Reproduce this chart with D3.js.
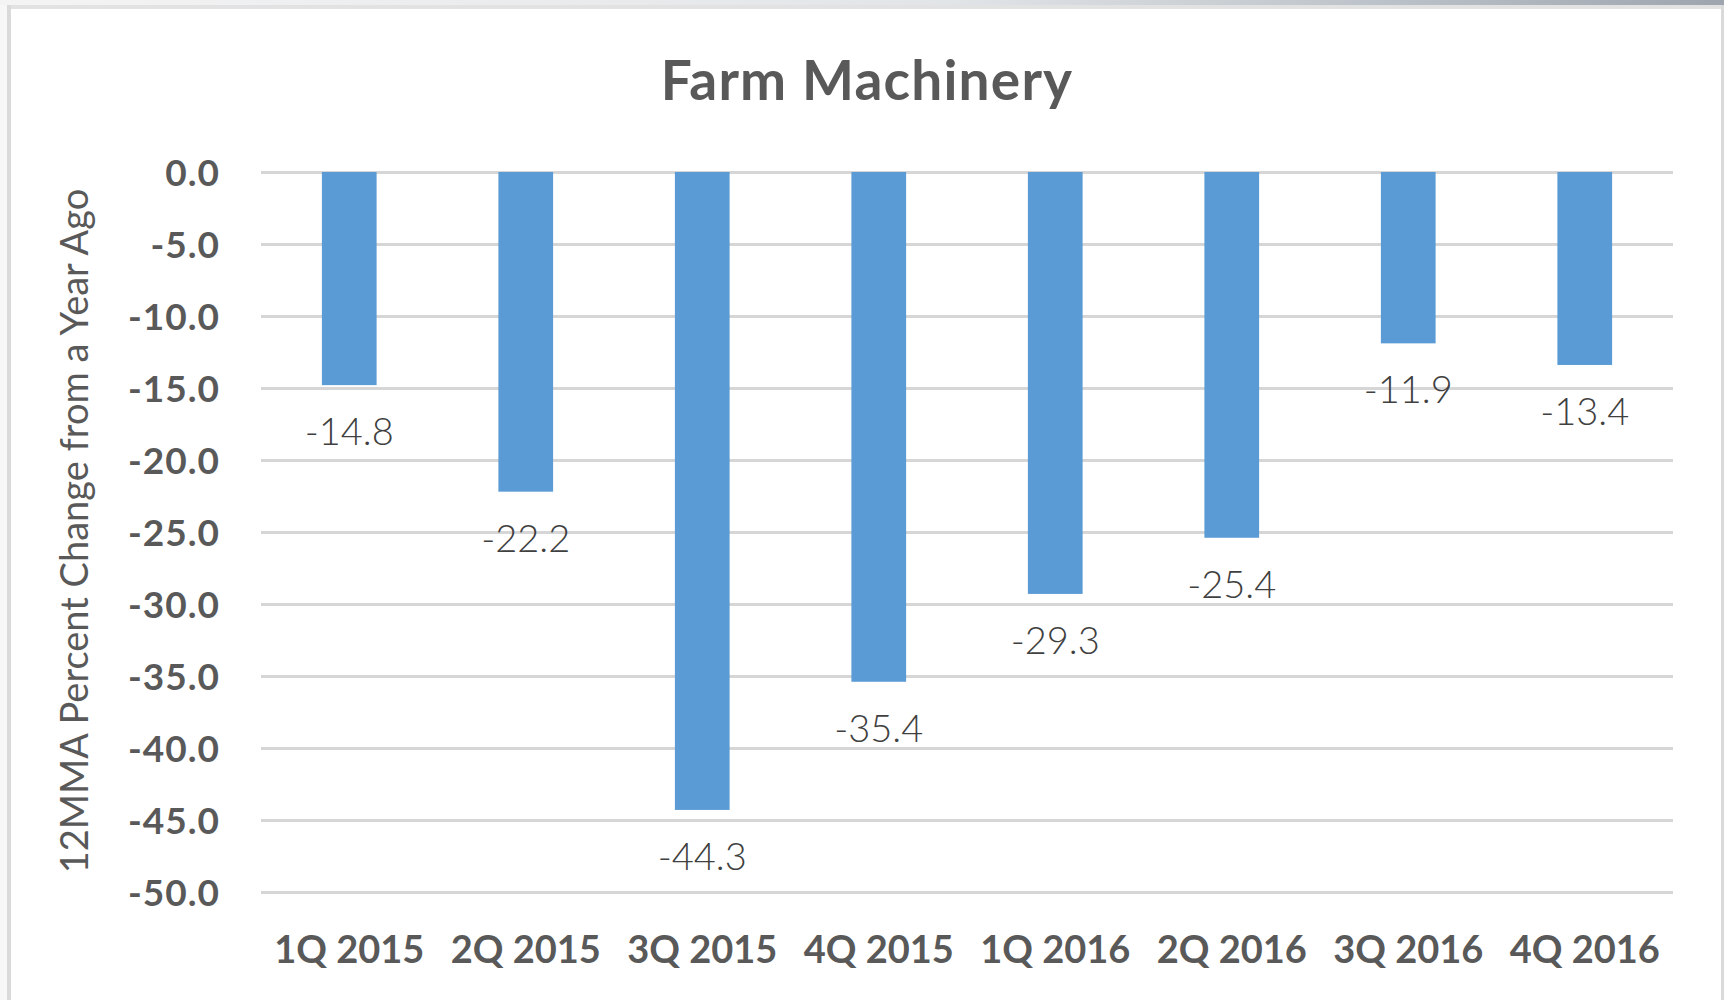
<!DOCTYPE html>
<html>
<head>
<meta charset="utf-8">
<script src="https://cdnjs.cloudflare.com/ajax/libs/d3/7.8.5/d3.min.js"></script>
<style>
  body { margin: 0; background: #fff; }
  text { font-family: Lato, "Open Sans", sans-serif; }
</style>
</head>
<body>
<div id="chart"></div>
<script>
// chart values
const quarters = ['1Q 2015', '2Q 2015', '3Q 2015', '4Q 2015', '1Q 2016', '2Q 2016', '3Q 2016', '4Q 2016'];
const changes = [-14.8, -22.2, -44.3, -35.4, -29.3, -25.4, -11.9, -13.4];
const yTicks = [0, -5, -10, -15, -20, -25, -30, -35, -40, -45, -50];

const w = 1724;
const h = 1000;
const plotLeft = 261;
const plotRight = 1673;
const plotTop = 172;
const plotBottom = 892;
const grey = '#595959';

const svg = d3.select('#chart')
  .append('svg')
  .attr('width', w)
  .attr('height', h);

// window chrome + frame
const grad = svg.append('defs').append('linearGradient')
  .attr('id', 'chrome')
  .attr('x1', '0').attr('x2', '1');
grad.append('stop').attr('offset', '0').attr('stop-color', '#f4f4f4');
grad.append('stop').attr('offset', '0.55').attr('stop-color', '#e2e5e8');
grad.append('stop').attr('offset', '0.8').attr('stop-color', '#bcc2c9');
grad.append('stop').attr('offset', '1').attr('stop-color', '#9ea5ae');

svg.append('rect').attr('x', 0).attr('y', 0).attr('width', w).attr('height', 5).attr('fill', 'url(#chrome)');
svg.append('rect').attr('x', 0).attr('y', 5).attr('width', w).attr('height', 4).attr('fill', '#e2e2e2');
svg.append('rect').attr('x', 0).attr('y', 5).attr('width', 7).attr('height', h).attr('fill', '#f7f7f7');
svg.append('rect').attr('x', 7).attr('y', 5).attr('width', 4).attr('height', h).attr('fill', '#dadada');
svg.append('rect').attr('x', 1721).attr('y', 5).attr('width', 3).attr('height', h).attr('fill', '#dadada');

const xScale = d3.scaleBand()
  .domain(quarters)
  .range([plotLeft, plotRight])
  .paddingInner(0.69)
  .paddingOuter(0.345);

const yScale = d3.scaleLinear()
  .domain([0, -50])
  .range([plotTop, plotBottom]);

// gridlines
svg.append('g')
  .attr('transform', `translate(${plotLeft}, 0)`)
  .call(d3.axisLeft(yScale).tickValues(yTicks).tickSize(-(plotRight - plotLeft)).tickFormat(''))
  .call(g => g.select('.domain').remove())
  .call(g => g.selectAll('.tick line').attr('stroke', '#d6d6d6').attr('stroke-width', 3));

// y tick labels
svg.append('g')
  .attr('transform', `translate(220, 0)`)
  .call(d3.axisLeft(yScale).tickValues(yTicks).tickSize(0).tickPadding(0).tickFormat(d => d.toFixed(1)))
  .call(g => g.select('.domain').remove())
  .call(g => g.selectAll('.tick text')
    .attr('fill', grey)
    .attr('font-size', 37)
    .attr('font-weight', 'bold')
    .attr('letter-spacing', 1)
    .attr('font-family', 'Lato, "Open Sans", sans-serif')
    .attr('dy', '0.36em'));

// x tick labels
svg.append('g')
  .attr('transform', `translate(0, 963)`)
  .call(d3.axisBottom(xScale).tickSize(0).tickPadding(0))
  .call(g => g.select('.domain').remove())
  .call(g => g.selectAll('.tick text')
    .attr('fill', grey)
    .attr('font-size', 38)
    .attr('font-weight', 'bold')
    .attr('font-family', 'Lato, "Open Sans", sans-serif')
    .attr('dy', 0));

// bars
svg.selectAll('rect.bar')
  .data(changes)
  .enter()
  .append('rect')
  .attr('class', 'bar')
  .attr('x', (d, i) => xScale(quarters[i]))
  .attr('y', yScale(0))
  .attr('width', xScale.bandwidth())
  .attr('height', d => yScale(d) - yScale(0))
  .attr('fill', '#5b9bd5');

// data labels
svg.selectAll('text.val')
  .data(changes)
  .enter()
  .append('text')
  .attr('class', 'val')
  .attr('x', (d, i) => xScale(quarters[i]) + xScale.bandwidth() / 2)
  .attr('y', d => yScale(d) + 60)
  .attr('text-anchor', 'middle')
  .attr('fill', '#404040')
  .attr('font-size', 38)
  .attr('font-weight', 300)
  .text(d => d.toFixed(1));

// title
svg.append('text')
  .attr('x', 867)
  .attr('y', 100)
  .attr('text-anchor', 'middle')
  .attr('fill', grey)
  .attr('font-size', 55)
  .attr('font-weight', 'bold')
  .attr('letter-spacing', 1.2)
  .text('Farm Machinery');

// y axis title
svg.append('text')
  .attr('transform', 'translate(88, 531) rotate(-90)')
  .attr('text-anchor', 'middle')
  .attr('fill', grey)
  .attr('font-size', 38)
  .text('12MMA Percent Change from a Year Ago');
</script>
</body>
</html>
